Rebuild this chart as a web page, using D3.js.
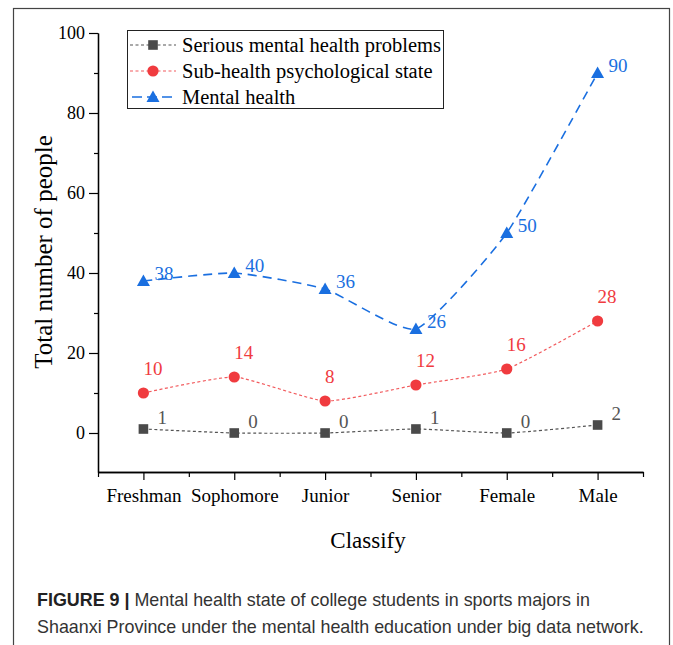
<!DOCTYPE html>
<html>
<head>
<meta charset="utf-8">
<script src="https://cdn.jsdelivr.net/npm/d3@7"></script>
<style>
  body { margin: 0; background: #fff; }
  svg text { font-family: "Liberation Serif", "Times New Roman", serif; }
</style>
</head>
<body>
<svg id="canvas"></svg>
<script>
let categories = ['Freshman', 'Sophomore', 'Junior', 'Senior', 'Female', 'Male'];
let seriousValues = [1, 0, 0, 1, 0, 2];
let subHealthValues = [10, 14, 8, 12, 16, 28];
let mentalValues = [38, 40, 36, 26, 50, 90];
let seriesNames = ['Serious mental health problems', 'Sub-health psychological state', 'Mental health'];
let yTicks = [0, 20, 40, 60, 80, 100];

let width = 673;
let height = 645;

let canvas = d3.select('#canvas')
    .attr('width', width)
    .attr('height', height);

// outer frame of the figure
canvas.append('rect')
    .attr('x', 13.5).attr('y', 8.5)
    .attr('width', 656).attr('height', 660)
    .attr('fill', 'none')
    .attr('stroke', '#444')
    .attr('stroke-width', 1.2);

let xScale = d3.scaleLinear()
    .domain([0.5, categories.length + 0.5])
    .range([98, 643]);

let yScale = d3.scaleLinear()
    .domain([-9.75, 100])
    .range([472, 33]);

let series = [
    { name: seriesNames[0], values: seriousValues, color: '#4a4a4a', line: '#555', dash: '3,2.5', width: 1.2, marker: 'square', dx: 14, dy: -5, labelColor: '#555' },
    { name: seriesNames[1], values: subHealthValues, color: '#f03b3f', line: '#f25b5e', dash: '3,2.5', width: 1.2, marker: 'circle', dx: 0, dy: -18, labelColor: '#f03b3f' },
    { name: seriesNames[2], values: mentalValues, color: '#1a6fe0', line: '#1a6fe0', dash: '9,6', width: 1.6, marker: 'triangle', dx: 11, dy: -1, labelColor: '#1a6fe0' }
];

let drawAxes = () => {
    // y axis: major ticks every 20, minor every 10
    let yMajor = d3.axisLeft(yScale).tickValues(yTicks).tickSize(9).tickSizeOuter(0).tickPadding(4).tickFormat(d3.format('d'));
    let yMinor = d3.axisLeft(yScale).tickValues([10, 30, 50, 70, 90]).tickSize(4).tickSizeOuter(0).tickFormat('');

    let gy = canvas.append('g').attr('transform', 'translate(98, 0)').call(yMajor);
    canvas.append('g').attr('transform', 'translate(98, 0)').call(yMinor);
    gy.selectAll('text').style('font-size', '18px').attr('fill', '#000');

    let xMajor = d3.axisBottom(xScale).tickValues(d3.range(1, categories.length + 1))
        .tickSize(8).tickSizeOuter(0).tickPadding(9).tickFormat((d) => categories[d - 1]);
    let xMinor = d3.axisBottom(xScale).tickValues(d3.range(0.5, categories.length + 1, 1)).tickSize(5).tickSizeOuter(0).tickFormat('');

    let gx = canvas.append('g').attr('transform', 'translate(0, 472)').call(xMajor);
    canvas.append('g').attr('transform', 'translate(0, 472)').call(xMinor);
    gx.selectAll('text').style('font-size', '19px').attr('fill', '#000');

    canvas.selectAll('.domain').attr('stroke', '#000').attr('stroke-width', 1.3);
    canvas.selectAll('.tick line').attr('stroke', '#000').attr('stroke-width', 1.2);

    canvas.append('text')
        .attr('transform', 'translate(52, 252) rotate(-90)')
        .attr('text-anchor', 'middle')
        .style('font-size', '25px')
        .text('Total number of people');

    canvas.append('text')
        .attr('x', 368).attr('y', 548)
        .attr('text-anchor', 'middle')
        .style('font-size', '23px')
        .text('Classify');
}

let drawMarker = (g, type, x, y, color) => {
    if (type === 'square') {
        g.append('rect').attr('x', x - 4.8).attr('y', y - 4.8).attr('width', 9.6).attr('height', 9.6).attr('fill', color);
    } else if (type === 'circle') {
        g.append('circle').attr('cx', x).attr('cy', y).attr('r', 5.6).attr('fill', color);
    } else {
        g.append('path').attr('d', 'M' + x + ',' + (y - 6.5) + 'L' + (x + 6.5) + ',' + (y + 5) + 'L' + (x - 6.5) + ',' + (y + 5) + 'Z').attr('fill', color);
    }
}

let drawSeries = () => {
    let line = d3.line()
        .x((d, i) => xScale(i + 1))
        .y((d) => yScale(d))
        .curve(d3.curveCardinal.tension(0.5));

    series.forEach((s) => {
        let g = canvas.append('g');
        g.append('path')
            .attr('d', line(s.values))
            .attr('fill', 'none')
            .attr('stroke', s.line)
            .attr('stroke-width', s.width)
            .attr('stroke-dasharray', s.dash);

        s.values.forEach((v, i) => {
            drawMarker(g, s.marker, xScale(i + 1), yScale(v), s.color);
        });

        g.selectAll('text')
            .data(s.values)
            .enter()
            .append('text')
            .attr('x', (d, i) => xScale(i + 1) + s.dx)
            .attr('y', (d) => yScale(d) + s.dy)
            .attr('fill', s.labelColor)
            .style('font-size', '19px')
            .text((d) => d);
    });
}

let drawLegend = () => {
    let lg = canvas.append('g');
    lg.append('rect')
        .attr('x', 127.5).attr('y', 30.5)
        .attr('width', 316).attr('height', 78)
        .attr('fill', '#fff')
        .attr('stroke', '#222')
        .attr('stroke-width', 1);

    series.forEach((s, i) => {
        let y = 45 + i * 26;
        lg.append('line')
            .attr('x1', 130).attr('x2', 176)
            .attr('y1', y).attr('y2', y)
            .attr('stroke', s.line)
            .attr('stroke-width', s.width)
            .attr('stroke-dasharray', s.marker === 'triangle' ? '10,5' : s.dash)
            .attr('stroke-dashoffset', s.marker === 'triangle' ? -2 : 0);
        drawMarker(lg, s.marker, 153, y, s.color);
        lg.append('text')
            .attr('x', 182).attr('y', y + 7)
            .style('font-size', '20.5px')
            .attr('fill', '#000')
            .text(s.name);
    });
}

let drawCaption = () => {
    let cap = canvas.append('text')
        .attr('x', 37).attr('y', 606)
        .style('font-family', '"Liberation Sans", Arial, sans-serif')
        .style('font-size', '17.9px')
        .attr('fill', '#333');
    cap.append('tspan').style('font-weight', 'bold').attr('fill', '#222').text('FIGURE 9 | ');
    cap.append('tspan').text('Mental health state of college students in sports majors in');

    canvas.append('text')
        .attr('x', 37).attr('y', 633)
        .style('font-family', '"Liberation Sans", Arial, sans-serif')
        .style('font-size', '17.9px')
        .attr('fill', '#333')
        .text('Shaanxi Province under the mental health education under big data network.');
}

drawAxes();
drawSeries();
drawLegend();
drawCaption();
</script>
</body>
</html>
